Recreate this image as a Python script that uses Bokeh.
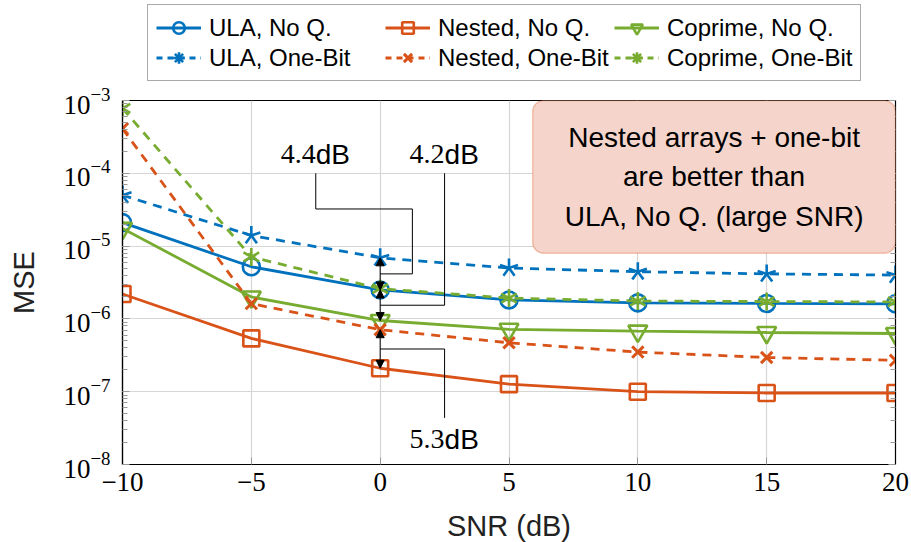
from bokeh.plotting import figure
from bokeh.layouts import column
from bokeh.models import (LogAxis, Legend, LegendItem, BoxAnnotation,
                          Label, Arrow, NormalHead, FixedTicker, LogTicker)
from bokeh.embed import file_html
from bokeh.resources import INLINE
import math

# ---------------- data ----------------
snr = [-10, -5, 0, 5, 10, 15, 20]
ula_noq = [2.1e-5, 5.2e-6, 2.5e-6, 1.82e-6, 1.66e-6, 1.63e-6, 1.61e-6]
ula_onebit = [5.0e-5, 1.4e-5, 6.9e-6, 5.0e-6, 4.45e-6, 4.15e-6, 4.0e-6]
nested_noq = [2.2e-6, 5.4e-7, 2.1e-7, 1.27e-7, 1.0e-7, 9.6e-8, 9.6e-8]
nested_onebit = [4.1e-4, 1.62e-6, 7.1e-7, 4.7e-7, 3.5e-7, 2.95e-7, 2.7e-7]
coprime_noq = [1.75e-5, 2.0e-6, 9.5e-7, 7.2e-7, 6.8e-7, 6.5e-7, 6.3e-7]
coprime_onebit = [7.8e-4, 7.1e-6, 2.6e-6, 1.93e-6, 1.76e-6, 1.73e-6, 1.71e-6]

legend_labels = ["ULA, No Q.", "Nested, No Q.", "Coprime, No Q.",
                 "ULA, One-Bit", "Nested, One-Bit", "Coprime, One-Bit"]
x_ticks = [-10, -5, 0, 5, 10, 15, 20]
x_tick_labels = ["\u221210", "\u22125", "0", "5", "10", "15", "20"]

box_text = "Nested arrays + one-bit\nare better than\nULA, No Q. (large SNR)"
gap_values = ["4.4", "4.2", "5.3"]
gap_unit = "dB"

BLUE = "#0072BD"
ORANGE = "#D95319"
GREEN = "#77AC30"
SANS = "Liberation Sans"
SERIF = "Liberation Serif"
LW = 2.8
MLW = 2.6
DASH = "9 7"

# ================= main plot =================
p = figure(frame_width=773, frame_height=364, x_range=(-10, 20), y_range=(1e-8, 1e-3),
           y_axis_type="log", output_backend="svg", toolbar_location=None,
           min_border_left=122, min_border_right=16, min_border_top=18, min_border_bottom=78,
           background_fill_color="white", border_fill_color="white")
p.outline_line_color = "black"
p.outline_line_width = 1.2
p.outline_line_alpha = 1.0

p.xgrid.grid_line_color = "#d6d6d6"
p.ygrid.grid_line_color = "#d6d6d6"
p.xgrid.grid_line_width = 1.2
p.ygrid.grid_line_width = 1.2

xa = p.xaxis[0]
xa.ticker = FixedTicker(ticks=x_ticks)
xa.major_label_overrides = {t: l for t, l in zip(x_ticks, x_tick_labels)}
xa.major_label_text_font = SERIF
xa.major_label_text_font_size = "27px"
xa.major_label_text_color = "black"
xa.major_label_standoff = 8
xa.major_tick_in = 7
xa.major_tick_out = 0
xa.major_tick_line_color = "#999999"
xa.minor_tick_line_color = None
xa.axis_line_color = "black"
xa.axis_line_width = 1.2
xa.axis_label = "SNR (dB)"
xa.axis_label_text_font = SANS
xa.axis_label_text_font_size = "29px"
xa.axis_label_text_font_style = "normal"
xa.axis_label_text_color = "#222222"
xa.axis_label_standoff = 16

ya = p.yaxis[0]
ya.major_label_text_font = SERIF
ya.major_label_text_font_size = "27px"
ya.major_label_text_color = "black"
ya.major_label_standoff = 12
ya.major_tick_in = 7
ya.major_tick_out = 0
ya.minor_tick_in = 5
ya.minor_tick_out = 0
ya.major_tick_line_color = "#999999"
ya.minor_tick_line_color = "#999999"
ya.axis_line_color = "black"
ya.axis_line_width = 1.2
ya.axis_label = "MSE"
ya.axis_label_text_font = SANS
ya.axis_label_text_font_size = "29px"
ya.axis_label_text_font_style = "normal"
ya.axis_label_text_color = "#222222"
ya.axis_label_standoff = 20

ra = LogAxis(ticker=LogTicker(), major_tick_in=7, major_tick_out=0, minor_tick_in=5, minor_tick_out=0,
             major_tick_line_color="#999999", minor_tick_line_color="#999999",
             axis_line_color="black", major_label_text_font_size="2px",
             major_label_text_color=None, major_label_standoff=0)
p.add_layout(ra, "right")

series = [
    (ula_noq, BLUE, "circle", 17),
    (nested_noq, ORANGE, "square", 16),
    (coprime_noq, GREEN, "inverted_triangle", 19),
]
for ys, col, mk, sz in series:
    p.line(snr, ys, line_color=col, line_width=LW)
    p.scatter(snr, ys, marker=mk, size=sz, fill_color=None, line_color=col, line_width=MLW)

p.line(snr, ula_onebit, line_color=BLUE, line_width=LW, line_dash=DASH)
for a in [90, 162, 234, 306, 18]:
    p.ray(snr, ula_onebit, length=9.5, length_units="screen", angle=a, angle_units="deg",
          line_color=BLUE, line_width=MLW)

p.line(snr, nested_onebit, line_color=ORANGE, line_width=LW, line_dash=DASH)
p.scatter(snr, nested_onebit, marker="x", size=16, line_color=ORANGE, line_width=3)

p.line(snr, coprime_onebit, line_color=GREEN, line_width=LW, line_dash=DASH)
for a in [90, 270, 30, 210, 150, 330]:
    p.ray(snr, coprime_onebit, length=9, length_units="screen", angle=a, angle_units="deg",
          line_color=GREEN, line_width=MLW)

# text box
box_left, box_right = 5.92, 20.0
box_bottom, box_top = 8.0e-6, 1.0e-3
p.add_layout(BoxAnnotation(left=box_left, right=box_right, bottom=box_bottom, top=box_top,
                           fill_color="#f5d5cb", fill_alpha=1.0, line_color=ORANGE, line_width=1.5,
                           border_radius=11))
p.add_layout(Label(x=(box_left + box_right) / 2, y=math.sqrt(box_bottom * box_top), text=box_text,
                   text_align="center", text_baseline="middle", text_font=SANS,
                   text_font_size="28px", text_color="black", text_line_height=1.28))

# gap annotations
x0 = snr[2]
pairs = [(ula_onebit[2], ula_noq[2]), (ula_noq[2], coprime_noq[2]), (nested_onebit[2], nested_noq[2])]
mids = [math.sqrt(a * b) for a, b in pairs]
for a, b in pairs:
    p.add_layout(Arrow(x_start=x0, y_start=b, x_end=x0, y_end=a, line_color="black", line_width=1,
                       start=NormalHead(size=8, line_color="black", fill_color="black", line_width=1),
                       end=NormalHead(size=8, line_color="black", fill_color="black", line_width=1)))

lab_xl, lab_xr = -2.5, 2.5
top_y = 1e-4
bend_x, bend_y = 1.25, 10 ** -4.49
low_y = 10 ** -7.36
p.line([lab_xl, lab_xl, bend_x, bend_x, x0], [top_y, bend_y, bend_y, mids[0], mids[0]],
       line_color="black", line_width=1)
p.line([lab_xr, lab_xr, x0], [top_y, mids[1], mids[1]], line_color="black", line_width=1)
p.line([lab_xr, lab_xr, x0], [low_y, mids[2], mids[2]], line_color="black", line_width=1)

label_pos = [(lab_xl, 10 ** -3.74), (lab_xr, 10 ** -3.74), (lab_xr, 10 ** -7.655)]
for (lx, ly), gv in zip(label_pos, gap_values):
    p.add_layout(Label(x=lx, y=ly, text=gv, text_align="right", text_baseline="middle",
                       text_font=SERIF, text_font_size="28px", text_color="black"))
    p.add_layout(Label(x=lx, y=ly, text=gap_unit, text_align="left", text_baseline="middle",
                       text_font=SANS, text_font_size="28px", text_color="black"))

# ================= legend strip (above the plot) =================
lg = figure(width=911, height=82, x_range=(100, 101), y_range=(0, 1), x_axis_type=None, y_axis_type=None,
            output_backend="svg", toolbar_location=None, min_border=0,
            background_fill_color="white", border_fill_color="white")
lg.outline_line_color = None
r_items = []
r_items.append([lg.line(snr, ula_noq, line_color=BLUE, line_width=LW),
                lg.scatter(snr, ula_noq, marker="circle", fill_color=None, line_color=BLUE, line_width=MLW)])
r_items.append([lg.line(snr, nested_noq, line_color=ORANGE, line_width=LW),
                lg.scatter(snr, nested_noq, marker="square", fill_color=None, line_color=ORANGE, line_width=MLW)])
r_items.append([lg.line(snr, coprime_noq, line_color=GREEN, line_width=LW),
                lg.scatter(snr, coprime_noq, marker="inverted_triangle", fill_color=None, line_color=GREEN,
                           line_width=MLW)])
r_items.append([lg.line(snr, ula_onebit, line_color=BLUE, line_width=LW, line_dash="6 5"),
                lg.scatter(snr, ula_onebit, marker="asterisk", line_color=BLUE, line_width=MLW)])
r_items.append([lg.line(snr, nested_onebit, line_color=ORANGE, line_width=LW, line_dash="6 5"),
                lg.scatter(snr, nested_onebit, marker="x", line_color=ORANGE, line_width=3)])
r_items.append([lg.line(snr, coprime_onebit, line_color=GREEN, line_width=LW, line_dash="6 5"),
                lg.scatter(snr, coprime_onebit, marker="asterisk", line_color=GREEN, line_width=MLW)])

items = [LegendItem(label=lab, renderers=rs) for lab, rs in zip(legend_labels, r_items)]
legend = Legend(items=items, location=(25, 1), orientation="horizontal", ncols=3,
                label_text_font=SANS, label_text_font_size="24px", label_text_color="black",
                glyph_width=45, glyph_height=29, label_height=29, label_standoff=8,
                label_width=175, spacing=1, padding=8, margin=0,
                border_line_color="#555555", border_line_width=1.2,
                background_fill_color="white", background_fill_alpha=1.0)
lg.add_layout(legend, "center")

layout = column(lg, p, spacing=0)
open("out.html", "w").write(file_html(layout, INLINE))
